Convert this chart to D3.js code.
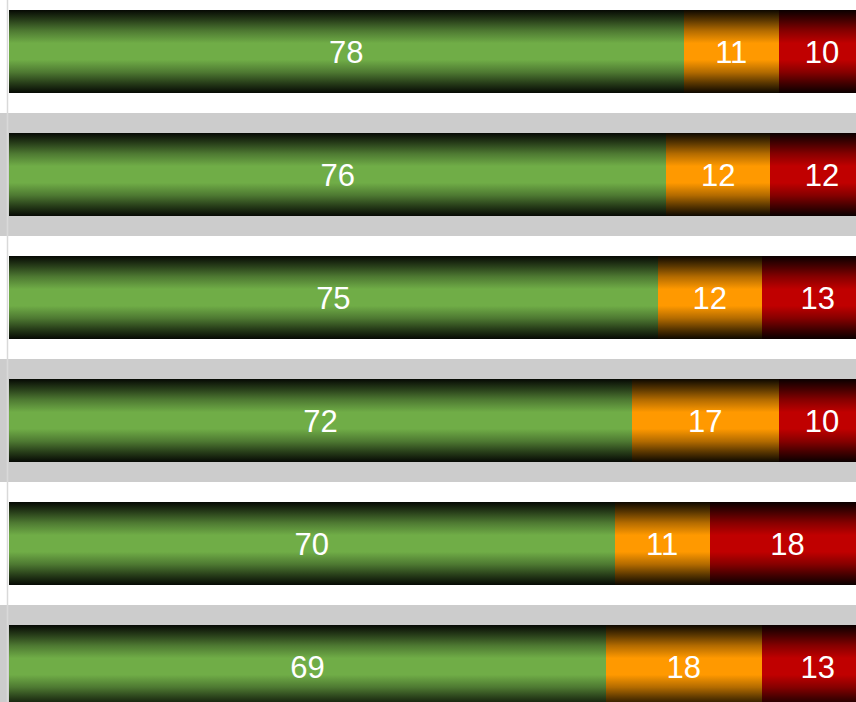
<!DOCTYPE html>
<html lang="en">
<head>
    <meta charset="UTF-8">
    <title>stacked bars</title>
    <script src="https://cdn.jsdelivr.net/npm/d3@7/dist/d3.min.js"></script>
    <style>
        *{
            padding: 0;
            margin: 0;
        }
        body{
            background: #fff;
            overflow: hidden;
        }
        svg{
            display: block;
        }
        .label{
            font-family: "Liberation Sans", Arial, sans-serif;
            font-size: 31px;
            fill: #fff;
        }
    </style>
</head>
<body>
<script>
    // rows, top to bottom
    let rows = ["r1", "r2", "r3", "r4", "r5", "r6"];
    let keys = ["good", "medium", "bad"];
    let good = [78, 76, 75, 72, 70, 69];
    let medium = [11, 12, 12, 17, 11, 18];
    let bad = [10, 12, 13, 10, 18, 13];
    let colors = ["#70AD47", "#FF9900", "#C00000"];

    let width = 856, height = 702;
    let svg = d3.select("body")
        .append("svg")
        .attr("width", width)
        .attr("height", height);

    let table = rows.map(function (r, i) {
        return {row: r, good: good[i], medium: medium[i], bad: bad[i]};
    });
    let series = d3.stack().keys(keys)(table);

    // chart is cut off on the right and top/bottom
    let x = d3.scaleLinear().domain([0, 100]).range([9, 874]);
    let y = d3.scaleBand().domain(rows)
        .range([-10, 728])
        .paddingInner(0.325)
        .paddingOuter(0.1625);
    let color = d3.scaleOrdinal().domain(keys).range(colors);

    // vertical gradients: dark edges, full colour in the middle
    let defs = svg.append("defs");
    keys.forEach(function (k) {
        let c = color(k);
        let dark = d3.interpolateRgb(c, "#000");
        let g = defs.append("linearGradient")
            .attr("id", "grad-" + k)
            .attr("x1", 0).attr("y1", 0)
            .attr("x2", 0).attr("y2", 1);
        let stops = [
            [0, dark(0.95)], [0.12, dark(0.65)], [0.25, dark(0.3)], [0.4, c],
            [0.6, c], [0.75, dark(0.3)], [0.88, dark(0.65)], [1, dark(0.95)]
        ];
        stops.forEach(function (s) {
            g.append("stop").attr("offset", s[0]).attr("stop-color", s[1]);
        });
    });

    // alternating grey row bands
    let step = y.step();
    svg.append("g").selectAll("rect")
        .data(rows.filter(function (d, i) { return i % 2 === 1; }))
        .enter().append("rect")
        .attr("x", 0)
        .attr("y", function (d) { return y(d) - step * y.paddingInner() / 2; })
        .attr("width", width)
        .attr("height", step)
        .attr("fill", "#CCCCCC");

    // axis line on the left
    svg.append("line")
        .attr("x1", 7.5).attr("x2", 7.5)
        .attr("y1", 0).attr("y2", height)
        .attr("stroke", "#D9D9D9")
        .attr("stroke-width", 1.5);

    let layer = svg.selectAll(".layer").data(series).enter().append("g")
        .attr("class", "layer")
        .attr("fill", function (d) { return "url(#grad-" + d.key + ")"; });

    layer.selectAll("rect").data(function (d) { return d; })
        .enter().append("rect")
        .attr("shape-rendering", "crispEdges")
        .attr("x", function (d) { return x(d[0]); })
        .attr("y", function (d) { return y(d.data.row); })
        .attr("width", function (d) { return x(d[1]) - x(d[0]); })
        .attr("height", y.bandwidth());

    // value labels, centred in each segment
    layer.selectAll("text").data(function (d) { return d; })
        .enter().append("text")
        .attr("class", "label")
        .attr("text-anchor", "middle")
        .attr("dy", "0.36em")
        .attr("x", function (d) { return (x(d[0]) + x(d[1])) / 2; })
        .attr("y", function (d) { return y(d.data.row) + y.bandwidth() / 2; })
        .text(function (d) { return d[1] - d[0]; });
</script>
</body>
</html>
